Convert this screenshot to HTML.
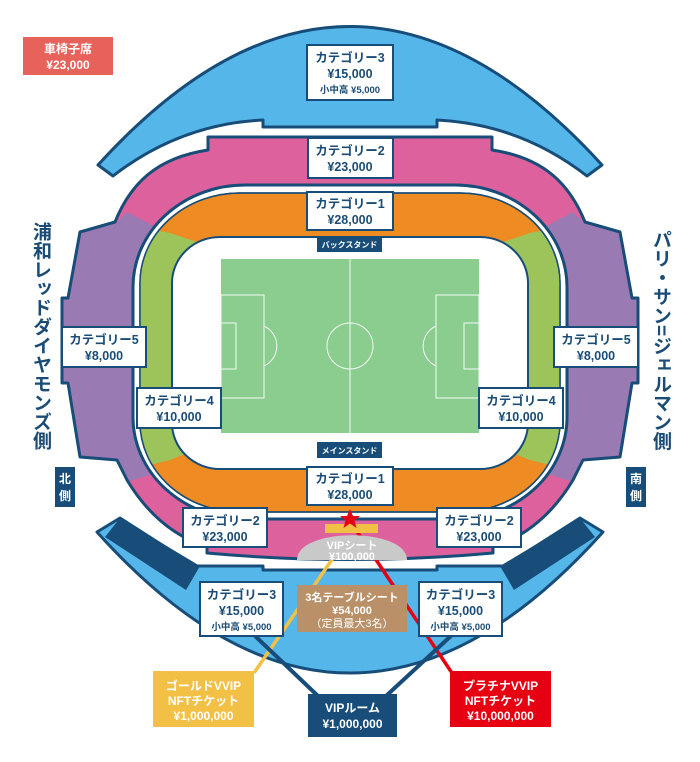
<!DOCTYPE html>
<html><head><meta charset="utf-8"><style>
html,body{margin:0;padding:0;background:#fff;}
#w{position:relative;width:700px;height:762px;overflow:hidden;font-family:"Liberation Sans","Noto Sans CJK JP",sans-serif;}
.v{position:absolute;writing-mode:vertical-rl;font-weight:bold;color:#1b4c76;font-size:19px;line-height:21px;letter-spacing:0;}
svg text{font-family:"Liberation Sans","Noto Sans CJK JP",sans-serif;font-weight:bold;text-anchor:middle;}
</style></head><body><div id="w">
<svg width="700" height="762" viewBox="0 0 700 762" xmlns="http://www.w3.org/2000/svg">
<defs><clipPath id="ring"><rect x="140" y="193" width="420" height="319" rx="100" ry="90"/></clipPath></defs>
<rect x="23" y="37" width="90" height="38" fill="#e8625c"/>
<text x="68" y="53" font-size="12" fill="#fff">車椅子席</text>
<text x="68" y="69" font-size="12" fill="#fff">¥23,000</text>
<path d="M98,165 Q350,-112 602,165 L587,176 Q520,124 437,120 L437,127 L263,127 L263,120 Q180,124 113,176 Z" fill="#55b6ea" stroke="#174d78" stroke-width="3" stroke-linejoin="round"/>
<path d="M97,532 L120,518 L195,566 L263,566 L263,570 L437,570 L437,566 L505,566 L580,518 L603,532 Q350,814 97,532 Z" fill="#55b6ea" stroke="#174d78" stroke-width="3" stroke-linejoin="round"/>
<polygon points="105,537 120,518 200,566 186,590" fill="#174d78"/>
<polygon points="595,537 580,518 500,566 514,590" fill="#174d78"/>
<path d="M208,150 L208,137 L492,137 L492,150 C545,158 570,185 585,222 L620,232 L632,298 L638,298 L638,383 L632,383 L620,457 L583,460 L573,480 C555,510 530,535 493,547 L493,553 Q350,566 207,553 L207,547 C170,535 145,510 127,480 L117,460 L80,457 L68,383 L62,383 L62,298 L68,298 L80,232 L115,222 C130,185 155,158 208,150 Z" fill="#dc619c"/>
<path d="M127,212 L165,232 L165,470 L127,482 L117,460 L80,457 L68,383 L62,383 L62,298 L68,298 L80,232 L115,224 Z" fill="#9a7ab2"/>
<path d="M573,212 L535,232 L535,470 L573,482 L583,460 L620,457 L632,383 L638,383 L638,298 L632,298 L620,232 L585,224 Z" fill="#9a7ab2"/>
<path d="M208,150 L208,137 L492,137 L492,150 C545,158 570,185 585,222 L620,232 L632,298 L638,298 L638,383 L632,383 L620,457 L583,460 L573,480 C555,510 530,535 493,547 L493,553 Q350,566 207,553 L207,547 C170,535 145,510 127,480 L117,460 L80,457 L68,383 L62,383 L62,298 L68,298 L80,232 L115,222 C130,185 155,158 208,150 Z" fill="none" stroke="#174d78" stroke-width="3" stroke-linejoin="round"/>
<rect x="133" y="185" width="434" height="334" rx="112" ry="102" fill="#fff" stroke="#174d78" stroke-width="3"/>
<rect x="140" y="193" width="420" height="319" rx="100" ry="90" fill="#ee8b22" stroke="#174d78" stroke-width="1.5"/>
<g clip-path="url(#ring)">
<polygon points="170,233 200,243 200,448 170,460 130,470 130,225" fill="#9cc45a"/>
<polygon points="530,233 500,243 500,448 530,460 570,470 570,225" fill="#9cc45a"/>
</g>
<rect x="140" y="193" width="420" height="319" rx="100" ry="90" fill="none" stroke="#174d78" stroke-width="1.5"/>
<rect x="172" y="237" width="356" height="232" rx="48" ry="46" fill="#fff" stroke="#174d78" stroke-width="2"/>
<rect x="221" y="259" width="258" height="174" fill="#8acd8f"/>
<g fill="none" stroke="#fff" stroke-width="1" opacity="0.9">
<line x1="350" y1="259" x2="350" y2="433"/>
<circle cx="350" cy="346" r="23"/>
<rect x="221" y="295" width="43" height="103"/>
<rect x="221" y="323" width="15" height="46"/>
<path d="M264,326 A22,22 0 0 1 264,366"/>
<rect x="436" y="295" width="43" height="103"/>
<rect x="464" y="323" width="15" height="46"/>
<path d="M436,326 A22,22 0 0 0 436,366"/>
</g>
<rect x="317" y="236" width="65" height="16" fill="#174d78"/>
<text x="349.5" y="247.5" font-size="8" fill="#fff">バックスタンド</text>
<rect x="317" y="442" width="65" height="16" fill="#174d78"/>
<text x="349.5" y="453.5" font-size="8" fill="#fff">メインスタンド</text>
<line x1="333" y1="558" x2="254" y2="673" stroke="#f3c046" stroke-width="3.5"/>
<line x1="352" y1="524" x2="452" y2="673" stroke="#e60012" stroke-width="3.5"/>
<line x1="253" y1="634" x2="318" y2="696" stroke="#174d78" stroke-width="4"/>
<line x1="453" y1="634" x2="386" y2="696" stroke="#174d78" stroke-width="4"/>
<rect x="325" y="524" width="53" height="9" fill="#f3c046"/>
<path d="M297,560 C297,527 407,527 407,560 Z" fill="#c9c9c9"/>
<polygon points="350,509 353,516 360,516 354.5,520.5 356.5,528 350,523.5 343.5,528 345.5,520.5 340,516 347,516" fill="#e60012"/>
<text x="352" y="549" font-size="11" fill="#fff">VIPシート</text>
<text x="352" y="560" font-size="11" fill="#fff">¥100,000</text>
<rect x="297" y="585" width="110" height="47" fill="#b99068"/>
<text x="352" y="601" font-size="11" fill="#fff">3名テーブルシート</text>
<text x="352" y="614" font-size="11" fill="#fff">¥54,000</text>
<text x="352" y="627" font-size="11" fill="#fff" style="font-weight:normal">（定員最大3名）</text>
<g fill="#fff" stroke="#174d78" stroke-width="2">
<rect x="307" y="45" width="86" height="55"/>
<rect x="308" y="138" width="85" height="40"/>
<rect x="307" y="192" width="86" height="38"/>
<rect x="307" y="467" width="86" height="38"/>
<rect x="62" y="327" width="84" height="40"/>
<rect x="554" y="327" width="84" height="40"/>
<rect x="137" y="388" width="84" height="40"/>
<rect x="479" y="388" width="84" height="40"/>
<rect x="183" y="508" width="84" height="39"/>
<rect x="437" y="508" width="84" height="39"/>
<rect x="200" y="582" width="83" height="54"/>
<rect x="419" y="582" width="83" height="54"/>
</g>
<g fill="#1b4c76" font-size="12.5">
<text x="350" y="62">カテゴリー3</text><text x="350" y="78">¥15,000</text><text x="350" y="93" font-size="9.5">小中高 ¥5,000</text>
<text x="350" y="155">カテゴリー2</text><text x="350" y="171">¥23,000</text>
<text x="350" y="208">カテゴリー1</text><text x="350" y="224">¥28,000</text>
<text x="350" y="483">カテゴリー1</text><text x="350" y="499">¥28,000</text>
<text x="104" y="344">カテゴリー5</text><text x="104" y="360">¥8,000</text>
<text x="596" y="344">カテゴリー5</text><text x="596" y="360">¥8,000</text>
<text x="179" y="405">カテゴリー4</text><text x="179" y="421">¥10,000</text>
<text x="521" y="405">カテゴリー4</text><text x="521" y="421">¥10,000</text>
<text x="225" y="525">カテゴリー2</text><text x="225" y="541">¥23,000</text>
<text x="479" y="525">カテゴリー2</text><text x="479" y="541">¥23,000</text>
<text x="241.5" y="599">カテゴリー3</text><text x="241.5" y="615">¥15,000</text><text x="241.5" y="630" font-size="9.5">小中高 ¥5,000</text>
<text x="460.5" y="599">カテゴリー3</text><text x="460.5" y="615">¥15,000</text><text x="460.5" y="630" font-size="9.5">小中高 ¥5,000</text>
</g>
<rect x="153" y="671" width="101" height="56" fill="#f3c046"/>
<text x="203.5" y="690" font-size="12" fill="#fff">ゴールドVVIP</text>
<text x="203.5" y="705" font-size="12" fill="#fff">NFTチケット</text>
<text x="203.5" y="720" font-size="12" fill="#fff">¥1,000,000</text>
<rect x="308" y="694" width="89" height="43" fill="#174d78"/>
<text x="352.5" y="712" font-size="12" fill="#fff">VIPルーム</text>
<text x="352.5" y="728" font-size="12" fill="#fff">¥1,000,000</text>
<rect x="450" y="671" width="101" height="56" fill="#e60012"/>
<text x="500.5" y="690" font-size="12" fill="#fff">プラチナVVIP</text>
<text x="500.5" y="705" font-size="12" fill="#fff">NFTチケット</text>
<text x="500.5" y="720" font-size="12" fill="#fff">¥10,000,000</text>
<rect x="55" y="467" width="20" height="40" fill="#174d78"/>
<text x="65" y="483" font-size="12" fill="#fff">北</text><text x="65" y="500" font-size="12" fill="#fff">側</text>
<rect x="626" y="467" width="20" height="40" fill="#174d78"/>
<text x="636" y="483" font-size="12" fill="#fff">南</text><text x="636" y="500" font-size="12" fill="#fff">側</text>
</svg>
<div class="v" style="left:30px;top:222px;">浦和レッドダイヤモンズ側</div>
<div class="v" style="left:650px;top:230px;">パリ・サン=ジェルマン側</div>
</div></body></html>
